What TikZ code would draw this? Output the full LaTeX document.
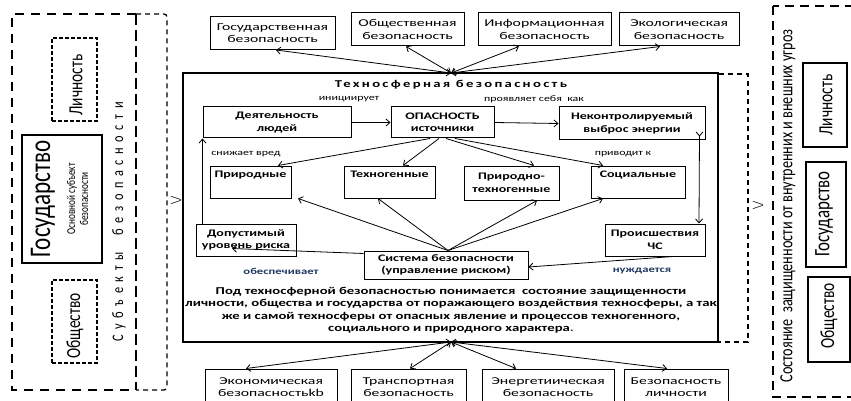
\documentclass[tikz,border=0pt]{standalone}
\usepackage{fontspec}
\setmainfont{Carlito}
\newfontfamily\hf{Carlito}[FakeStretch=1.4]
\newfontfamily\hfw{Carlito}[FakeStretch=1.5]
\newfontfamily\hfsp{Carlito}[FakeStretch=1.4,LetterSpace=22]
\newfontfamily\vf{Carlito}[FakeStretch=0.77]
\newfontfamily\vfsp{Carlito}[FakeStretch=0.77,LetterSpace=35]
\usetikzlibrary{arrows.meta}
\definecolor{dblue}{HTML}{1F3864}
\tikzset{
 bx/.style={draw, line width=1pt, inner sep=0pt, align=center},
 tb/.style={bx, font=\hfw\fontsize{10.5}{12.5}\selectfont},
 cb/.style={bx, font=\hf\bfseries\fontsize{10}{12.5}\selectfont},
 ar/.style={-{Straight Barb[length=4pt,width=7pt]}, line width=0.8pt},
 dar/.style={{Straight Barb[length=4pt,width=7pt]}-{Straight Barb[length=4pt,width=7pt]}, line width=0.8pt},
 lbl/.style={inner sep=0pt, font=\hf\fontsize{8.5}{10}\selectfont},
 blbl/.style={inner sep=0pt, text=dblue, font=\hf\bfseries\fontsize{9}{10}\selectfont},
 vt/.style={inner sep=0pt, rotate=90},
 thickdash/.style={line width=1.8pt, dash pattern=on 9pt off 7pt},
 heavydash/.style={line width=2.8pt, dash pattern=on 11pt off 5pt},
 thindash/.style={line width=1.3pt, dash pattern=on 5pt off 4pt},
 finedash/.style={line width=1.3pt, dash pattern=on 4pt off 2pt}
}
\begin{document}
\begin{tikzpicture}[x=1pt,y=-1pt]
\useasboundingbox (0,0) rectangle (851,401);
\fill[white] (0,0) rectangle (851,401);

% ---------- left panel ----------
\draw[thickdash] (136,14) -- (12,14) -- (12,390) -- (136,390);
\draw[heavydash] (136,14) -- (136,390);
\draw[thindash, rounded corners=3pt] (136,14) -- (167,14) -- (167,390) -- (136,390);
\node[draw, finedash, minimum width=45, minimum height=83, inner sep=0pt] (lichL) at (74.5,79.5) {};
\node[vt, font=\vf\fontsize{20}{20}\selectfont] (lichLt) at (76,85) {Личность};
\node[draw, line width=2pt, minimum width=80, minimum height=128, inner sep=0pt] (gosL) at (62,199) {};
\node[vt, font=\vf\fontsize{30}{30}\selectfont] (gosLt) at (43,199) {Государство};
\node[vt, font=\vf\fontsize{12}{13}\selectfont, align=center] (gosLs) at (77.5,199) {Основной субъект\\безопасности};
\node[draw, finedash, minimum width=45, minimum height=83, inner sep=0pt] (obshL) at (74.5,321.5) {};
\node[vt, font=\vf\fontsize{20}{20}\selectfont] (obshLt) at (75,326) {Общество};
\node[vt, font=\vfsp\fontsize{16}{16}\selectfont] (subj) at (119,222) {Субъекты\ \ безопасности};
\node[vt, font=\vf\fontsize{14}{14}\selectfont] (mkL) at (176,200) {\textbackslash/};

% ---------- right panel ----------
\draw[thindash] (719,74) -- (748,74) -- (748,342) -- (719,342);
\draw[line width=2.5pt, dash pattern=on 9pt off 6pt] (773,6) rectangle (880,397);
\node[vt, font=\vf\fontsize{18.5}{18.5}\selectfont] (state) at (788,206) {Состояние\ \ защищенности от внутренних и внешних угроз};
\node[draw, line width=1.3pt, minimum width=44, minimum height=84, inner sep=0pt] (lichR) at (825,105) {};
\node[vt, font=\vf\fontsize{20}{20}\selectfont] (lichRt) at (826,105) {Личность};
\node[draw, line width=2pt, minimum width=40, minimum height=105, inner sep=0pt] (gosR) at (826,214.5) {};
\node[vt, font=\vf\fontsize{22}{22}\selectfont] (gosRt) at (824,214) {Государство};
\node[draw, line width=1.3pt, minimum width=42, minimum height=85, inner sep=0pt] (obshR) at (829,319.5) {};
\node[vt, font=\vf\fontsize{20}{20}\selectfont] (obshRt) at (829,316) {Общество};
\node[vt, font=\vf\fontsize{14}{14}\selectfont] (mkR) at (758,205) {\textbackslash/};

% ---------- central box ----------
\node[draw, line width=1.2pt, minimum width=535, minimum height=269, inner sep=0pt] (main) at (450.5,207.5) {};
\coordinate (ctop) at (451,73);
\coordinate (cbot) at (451,342);
\node[inner sep=0pt, font=\hfsp\bfseries\fontsize{10.5}{12}\selectfont] (title) at (451,85) {Техносферная безопасность};

% top boxes
\node[tb, minimum width=125, minimum height=33] (gos) at (272.5,33) {Государственная\\безопасность};
\node[tb, minimum width=113, minimum height=33] (obsh) at (407.5,29.5) {Общественная\\безопасность};
\node[tb, minimum width=133, minimum height=33] (inf) at (544.5,29.5) {Информационная\\безопасность};
\node[tb, minimum width=120, minimum height=33] (eko) at (679,29.5) {Экологическая\\безопасность};
\draw[dar] (ctop) -- ([xshift=3.5pt]gos.south);
\draw[dar] (ctop) -- ([xshift=-1.5pt]obsh.south);
\draw[dar] (ctop) -- ([xshift=-25.5pt]inf.south);
\draw[dar] (ctop) -- ([xshift=-19pt]eko.south);

% row 1
\node[lbl] (ini) at (349,99) {инициирует};
\node[lbl] (prov) at (534,99) {проявляет себя\ \ как};
\node[cb, minimum width=148, minimum height=31] (deya) at (277,122.5) {Деятельность\\людей};
\node[cb, minimum width=103, minimum height=31] (opas) at (442.5,122.5) {ОПАСНОСТЬ\\источники};
\node[cb, minimum width=146, minimum height=33] (nekon) at (632,123.5) {Неконтролируемый\\выброс энергии};
\draw[ar] (deya.east) -- (opas.west);
\draw[ar] (opas.east) -- (nekon.west);
\node[lbl] (snij) at (246,154) {снижает вред};
\node[lbl] (priv) at (623,154) {приводит к};

% row 2
\node[cb, minimum width=81, minimum height=32] (prir) at (250.5,182) {Природные\\\strut};
\node[cb, minimum width=91, minimum height=32] (tehn) at (389.5,182) {Техногенные\\\strut};
\node[cb, minimum width=95, minimum height=34] (prtehn) at (511.5,183) {Природно-\\техногенные};
\node[cb, minimum width=94, minimum height=32] (soc) at (638,182) {Социальные\\\strut};
\draw[ar] ([xshift=-12.5pt]opas.south) -- ([xshift=27.5pt]prir.north);
\draw[ar] ([xshift=-3.5pt]opas.south) -- ([xshift=13.5pt]tehn.north);
\draw[ar] ([xshift=3.5pt]opas.south) -- ([xshift=22.5pt]prtehn.north);
\draw[ar] ([xshift=12.5pt]opas.south) -- ([xshift=-35pt]soc.north);

% row 3
\node[cb, minimum width=100, minimum height=32] (dop) at (246,240) {Допустимый\\уровень риска};
\node[cb, minimum width=100, minimum height=32] (proish) at (655,240) {Происшествия\\ЧС};
\node[cb, minimum width=164, minimum height=28] (sys) at (446,265) {Система безопасности\\(управление риском)};
\draw[ar] ([xshift=2pt]sys.north) -- ([xshift=47.5pt]prir.south);
\draw[ar] ([xshift=2pt]sys.north) -- ([xshift=-11.5pt]tehn.south);
\draw[ar] ([xshift=2pt]sys.north) -- ([xshift=25.5pt]prtehn.south);
\draw[ar] ([xshift=2pt]sys.north) -- ([xshift=-35pt]soc.south);
\draw[ar] ([yshift=-3pt]sys.north west) -- ([xshift=-14pt,yshift=8pt]dop.south);
\draw[ar] ([xshift=18pt]proish.south) -- ([yshift=-2pt]sys.east);
\draw[ar] (dop.north -| deya.south west) -- (deya.south west);
\draw[{Straight Barb[length=4pt,width=7pt,reversed]}-{Straight Barb[length=4pt,width=7pt]}, line width=0.8pt] ([xshift=-6pt,yshift=9pt]nekon.south east) -- ([xshift=44pt]proish.north);
\node[blbl] (obesp) at (281,271) {обеспечивает};
\node[blbl] (nujd) at (642,271) {нуждается};

% definition
\node[inner sep=0pt, align=center, font=\hf\bfseries\fontsize{10.5}{12.5}\selectfont] (def) at (451,310)
 {Под техносферной безопасностью понимается\ \ состояние защищенности\\
  личности, общества и государства от поражающего воздействия техносферы, а так\\
  же и самой техносферы от опасных явление и процессов техногенного,\\
  социального и природного характера\textcolor{dblue}{.}};

% bottom boxes
\node[tb, minimum width=132, minimum height=36] (ekon) at (271,387) {Экономическая\\безопасностьkb};
\node[tb, minimum width=115, minimum height=36] (trans) at (408.5,387) {Транспортная\\безопасность};
\node[tb, minimum width=132, minimum height=36] (energ) at (548,387) {Энергетиическая\\безопасность};
\node[tb, minimum width=104, minimum height=36] (bezl) at (676,387) {Безопасность\\личности};
\draw[dar] (cbot) -- ([xshift=-25pt]ekon.north);
\draw[dar] (cbot) -- ([xshift=1.5pt]trans.north);
\draw[dar] (cbot) -- ([xshift=-32pt]energ.north);
\draw[dar] (cbot) -- ([xshift=-9pt]bezl.north);
\end{tikzpicture}
\end{document}
